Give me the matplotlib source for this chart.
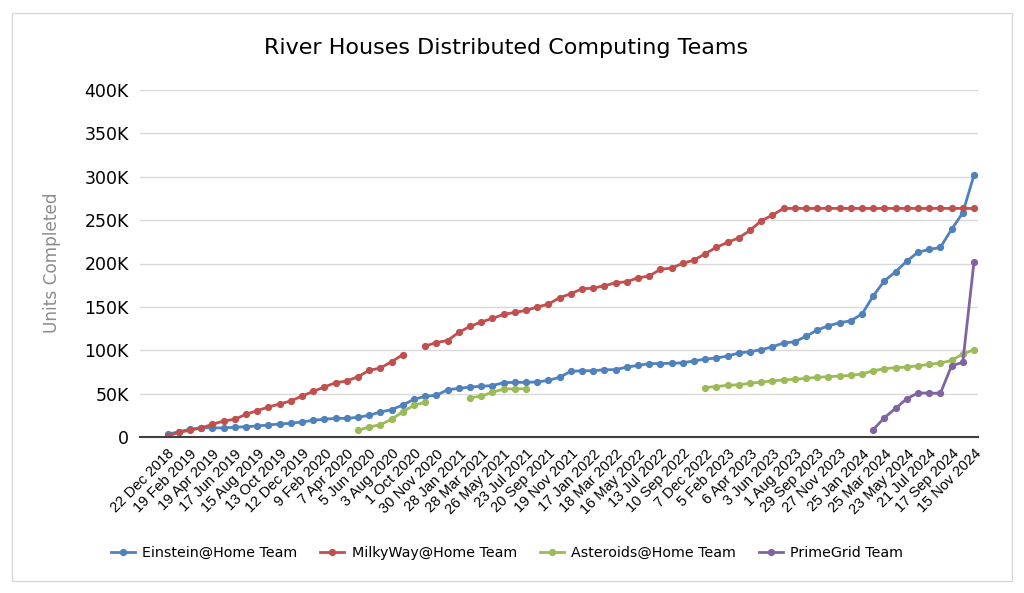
import numpy as np
import matplotlib
matplotlib.use("Agg")
from matplotlib import pyplot as plt
from matplotlib.patches import Rectangle

# tick labels (every second data point is labelled)
tick_labels = [
    "22 Dec 2018", "19 Feb 2019", "19 Apr 2019", "17 Jun 2019", "15 Aug 2019",
    "13 Oct 2019", "12 Dec 2019", "9 Feb 2020", "7 Apr 2020", "5 Jun 2020",
    "3 Aug 2020", "1 Oct 2020", "30 Nov 2020", "28 Jan 2021", "28 Mar 2021",
    "26 May 2021", "23 Jul 2021", "20 Sep 2021", "19 Nov 2021", "17 Jan 2022",
    "18 Mar 2022", "16 May 2022", "13 Jul 2022", "10 Sep 2022", "7 Dec 2022",
    "5 Feb 2023", "6 Apr 2023", "3 Jun 2023", "1 Aug 2023", "29 Sep 2023",
    "27 Nov 2023", "25 Jan 2024", "25 Mar 2024", "23 May 2024", "21 Jul 2024",
    "17 Sep 2024", "15 Nov 2024",
]

N = None
# values in thousands of units
einstein = [
    3.1, 6, 8.9, 10.7, 10.5, 10.5, 11.2, 11.9, 12.7, 13.8,
    15, 15.8, 17.3, 19.2, 20.5, 21.5, 21.5, 22.7, 25, 28.8,
    31.5, 36.9, 43.4, 46.9, 48, 54.5, 56, 57.6, 58.5, 59.3,
    62.6, 63, 63, 63.4, 65.3, 68.8, 75.7, 76.4, 76.4, 77.6,
    77.6, 80.6, 82.5, 84.6, 84.7, 84.9, 85.6, 87.6, 89.9, 91,
    93.3, 96.8, 98.3, 100.6, 104, 108.3, 109.8, 116, 123.2, 128.2,
    131.7, 134, 141.7, 162.4, 180, 190.4, 202.7, 213, 216.2, 218.5,
    239.3, 258.4, 301.8,
]
milkyway = [
    1, 5.4, 7.7, 10.4, 14.6, 18.4, 20.4, 26.2, 30.3, 34.6,
    38, 41.5, 47.2, 52.6, 57.6, 62.6, 64.5, 69.5, 76.8, 79.5,
    86.8, 94.8, N, 104.8, 108.9, 111.2, 120.6, 127.5, 132.5, 136.7,
    141.3, 143.6, 145.9, 149.8, 153.2, 160.5, 165.1, 170.8, 171.6, 174.3,
    177.8, 178.9, 183.5, 185.5, 193.3, 194.7, 200.2, 203.9, 211.2, 218.7,
    224.3, 229.6, 238.1, 249.2, 255.7, 263.5, 263.5, 263.5, 263.5, 263.5,
    263.5, 263.5, 263.5, 263.5, 263.5, 263.5, 263.5, 263.5, 263.5, 263.5,
    263.5, 263.5, 263.5,
]
asteroids = [N] * 17 + [
    7.7, 11.5, 14.2, 20.4, 29.1, 36.5, 40,
    N, N, N,
    45.3, 47, 51.5, 55.3, 55.5, 55.7,
] + [N] * 15 + [
    57, 58.2, 59.5, 60.3, 61.8, 63.4, 64.5, 66, 66.4, 67.6,
    68.8, 69.5, 70.3, 71, 72.6, 76.4, 78.7, 79.9, 80.6, 82.1,
    83.7, 85.2, 88.3, 95.6, 100.6,
]
primegrid = [N] * 63 + [8.4, 22.2, 33, 44.1, 50.7, 50.7, 50.3, 82.1, 86, 201.6]

series = [
    ("Einstein@Home Team", einstein, "#4f81bd"),
    ("MilkyWay@Home Team", milkyway, "#c0504d"),
    ("Asteroids@Home Team", asteroids, "#9bbb59"),
    ("PrimeGrid Team", primegrid, "#8064a2"),
]

fig = plt.figure(figsize=(10.24, 5.93), dpi=100)
ax = fig.add_axes([140 / 1024, 1 - 437 / 593, 838 / 1024, 347 / 593])

# outer chart border
fig.patches.append(Rectangle((12 / 1024, 12 / 593), 1000 / 1024, 568 / 593,
                             transform=fig.transFigure, fill=False,
                             edgecolor="#d9d9d9", linewidth=1))

x = np.arange(len(einstein))
for name, vals, color in series:
    y = np.array([np.nan if v is None else v * 1000 for v in vals])
    ax.plot(x, y, color=color, linewidth=2, marker="o", markersize=4.2,
            label=name)

ax.set_xlim(-2.46, 72.36)
ax.set_ylim(0, 400000)
ax.set_yticks(np.arange(0, 400001, 50000))
ax.set_yticklabels(["0"] + [f"{v}K" for v in range(50, 401, 50)], fontsize=12.5)
ax.yaxis.grid(True, color="#d9d9d9", linewidth=1)
ax.set_axisbelow(True)

ax.set_xticks(x[::2])
ax.set_xticklabels(tick_labels, rotation=45, ha="right", va="top",
                   rotation_mode="anchor", fontsize=10.5,
                   family="Liberation Sans")
ax.tick_params(axis="x", length=0, pad=7)
ax.tick_params(axis="y", length=0, pad=8)

for s in ["top", "right", "left"]:
    ax.spines[s].set_visible(False)
ax.spines["bottom"].set_color("#404040")
ax.spines["bottom"].set_linewidth(1.5)

fig.text(506 / 1024, 1 - 48 / 593, "River Houses Distributed Computing Teams",
         ha="center", va="center", fontsize=16)
fig.text(52 / 1024, 1 - 263 / 593, "Units Completed", rotation=90,
         ha="center", va="center", fontsize=12.2, color="#8c8c8c")

fig.legend(loc="center", bbox_to_anchor=(507 / 1024, 1 - 553 / 593), ncol=4,
           frameon=False, fontsize=10.3, columnspacing=1.6, handlelength=1.7,
           handletextpad=0.5)

fig.savefig("out.png", dpi=100)
